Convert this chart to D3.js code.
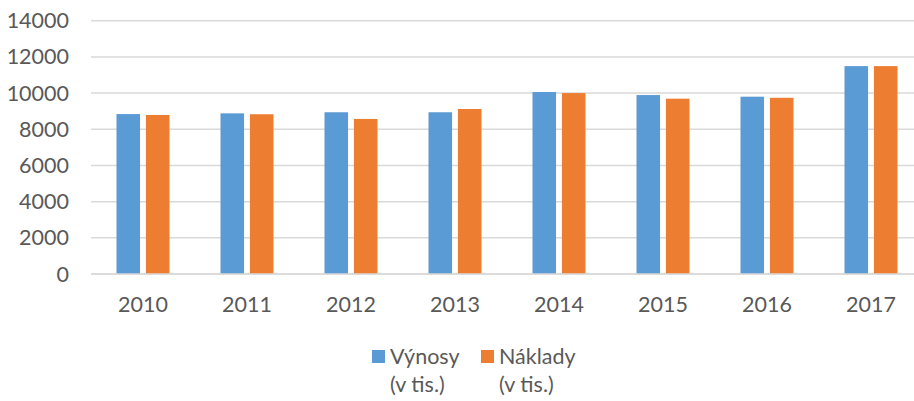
<!DOCTYPE html>
<html><head><meta charset="utf-8">
<script src="https://cdn.jsdelivr.net/npm/d3@7"></script>
<style>body{margin:0;background:#fff;}svg{display:block;}</style>
</head><body>
<script>
const categories = ["2010","2011","2012","2013","2014","2015","2016","2017"];
const vynosy = [8840, 8880, 8940, 8940, 10060, 9890, 9800, 11490];
const naklady = [8790, 8830, 8570, 9120, 10000, 9690, 9740, 11490];
const seriesNames = ["Výnosy", "Náklady"];
const seriesSub = ["(v tis.)", "(v tis.)"];
const colors = ["#5b9bd5", "#ed7d31"];
const yTicks = [0,2000,4000,6000,8000,10000,12000,14000];

const W = 914, H = 401;
const font = "Lato, 'Open Sans', sans-serif";
const fs = 21.5;
const svg = d3.select("body").append("svg").attr("width", W).attr("height", H);

const x = d3.scaleBand().domain(categories).range([91, 923]).paddingInner(0).paddingOuter(0);
const y = d3.scaleLinear().domain([0, 14000]).range([274, 20.7]);
const x1 = d3.scaleBand().domain(seriesNames).range([0, 53]).paddingInner(0.2);

// gridlines
svg.append("g").selectAll("line").data(yTicks).join("line")
  .attr("x1", 91).attr("x2", W).attr("y1", d => y(d)).attr("y2", d => y(d))
  .attr("stroke", "#d9d9d9").attr("stroke-width", 1.5);

// y labels
svg.append("g").selectAll("text").data(yTicks).join("text")
  .attr("x", 69).attr("y", d => y(d)).attr("dy", "0.35em")
  .attr("text-anchor", "end").attr("font-family", font).attr("font-size", fs)
  .attr("fill", "#595959").text(d => d);

// bars
const data = categories.map((c, i) => ({c, vals: [vynosy[i], naklady[i]]}));
const groups = svg.append("g").selectAll("g").data(data).join("g")
  .attr("transform", d => `translate(${x(d.c) + x.bandwidth()/2 - 26.5},0)`);
groups.selectAll("rect").data(d => d.vals.map((v, j) => ({v, s: seriesNames[j], j})))
  .join("rect")
  .attr("x", d => x1(d.s)).attr("width", x1.bandwidth())
  .attr("y", d => y(d.v)).attr("height", d => y(0) - y(d.v))
  .attr("fill", d => colors[d.j]);

// x axis line
svg.append("line").attr("x1", 91).attr("x2", W).attr("y1", y(0)).attr("y2", y(0))
  .attr("stroke", "#d9d9d9").attr("stroke-width", 1.5);

// x labels
svg.append("g").selectAll("text").data(categories).join("text")
  .attr("x", d => x(d) + x.bandwidth()/2).attr("y", 312)
  .attr("text-anchor", "middle").attr("font-family", font).attr("font-size", fs)
  .attr("fill", "#595959").text(d => d);

// legend
const legX = [372, 481];
seriesNames.forEach((n, i) => {
  svg.append("rect").attr("x", legX[i]).attr("y", 350).attr("width", 13).attr("height", 13).attr("fill", colors[i]);
  svg.append("text").attr("x", legX[i] + 18).attr("y", 364).attr("font-family", font).attr("font-size", fs)
    .attr("fill", "#595959").text(n);
  svg.append("text").attr("x", legX[i] + 18).attr("y", 392).attr("font-family", font).attr("font-size", fs)
    .attr("fill", "#595959").text(seriesSub[i]);
});
</script>
</body></html>
